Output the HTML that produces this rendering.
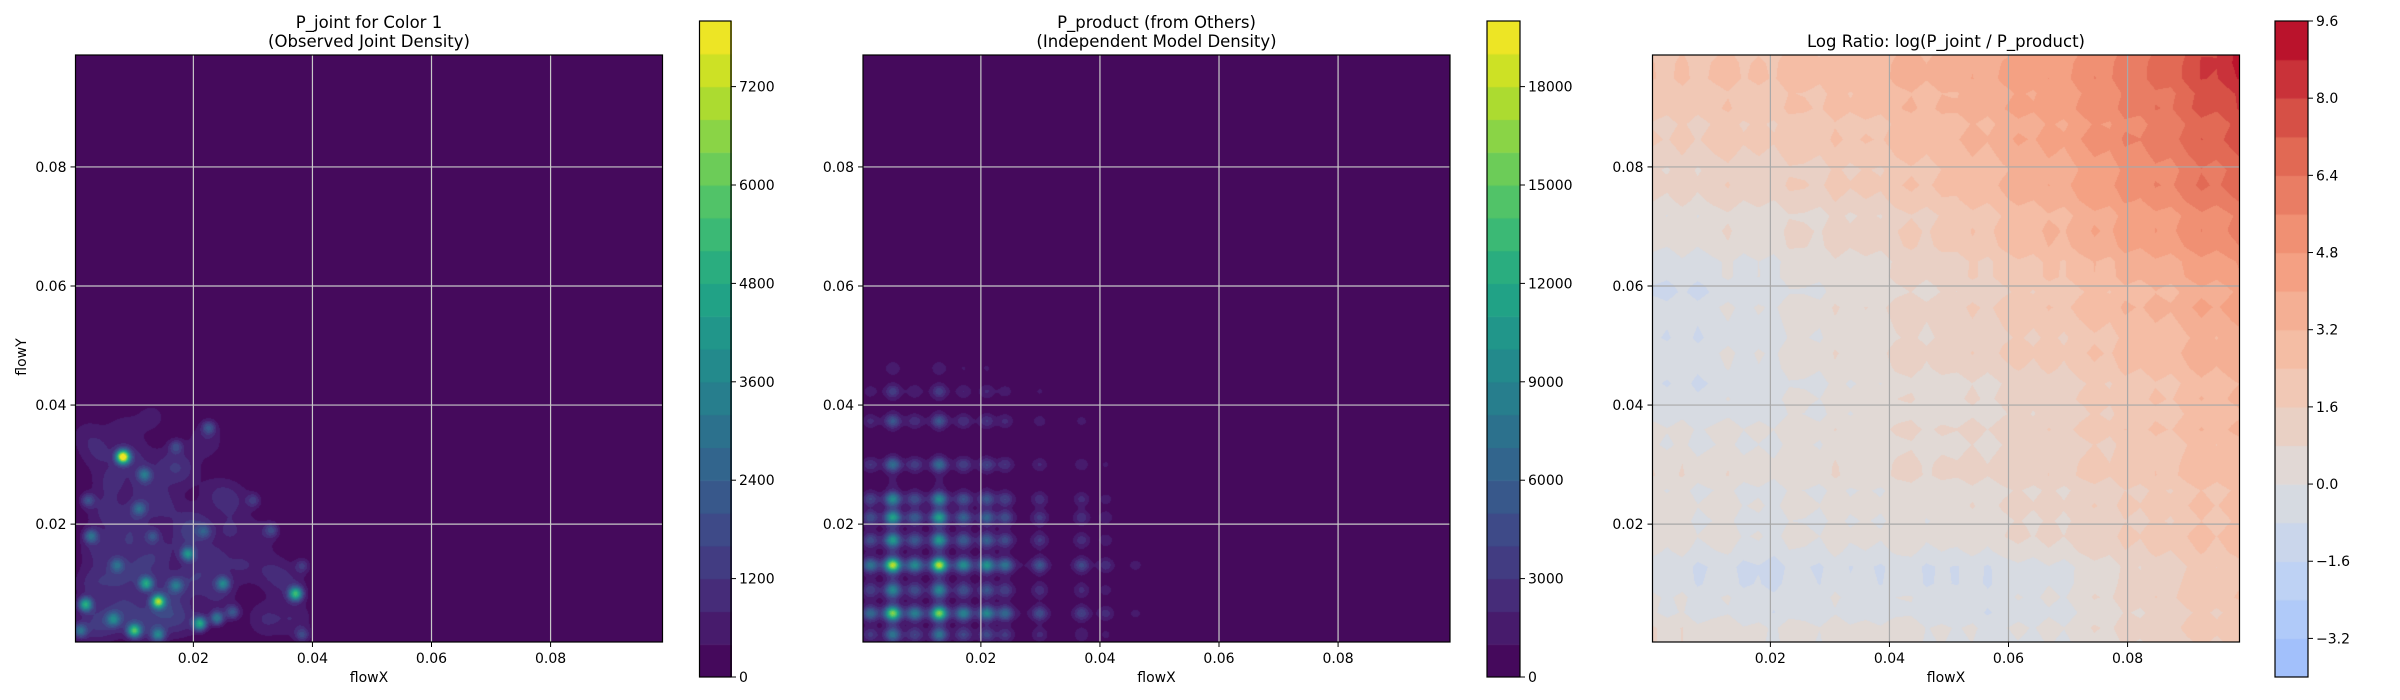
<!DOCTYPE html>
<html><head><meta charset="utf-8">
<style>
html,body{margin:0;padding:0;background:#fff;}
#wrap{position:relative;width:2400px;height:700px;overflow:hidden;font-family:"Liberation Sans","DejaVu Sans",sans-serif;}
canvas{position:absolute;}
svg{position:absolute;left:0;top:0;}
text{font-family:"DejaVu Sans","Liberation Sans",sans-serif;fill:#000;}
</style></head>
<body>
<div id="wrap">
<canvas id="h1"></canvas>
<canvas id="h2"></canvas>
<canvas id="h3"></canvas>
<canvas id="c1"></canvas>
<canvas id="c2"></canvas>
<canvas id="c3"></canvas>
<svg id="ov" width="2400" height="700"></svg>
</div>
<script>
// ---- data ----
const axisTicks = [0.02, 0.04, 0.06, 0.08];
const axisTickLabels = ["0.02", "0.04", "0.06", "0.08"];
const domainMin = 0.0002, domainMax = 0.0988;

// Panel 1: observed joint density peaks
const peakX = [0.0081,0.0140,0.0371,0.0018,0.0100,0.0120,0.0210,0.0190,0.0249,0.0239,0.0140,0.0027,0.0117,0.0108,0.0071,0.0225,0.0330,0.0382,0.0170,0.0022,0.0065,0.0009,0.0131,0.0217,0.0265,0.0300,0.0170,0.0382];
const peakY = [0.0313,0.0070,0.0083,0.0065,0.0021,0.0100,0.0033,0.0150,0.0100,0.0042,0.0014,0.0180,0.0283,0.0226,0.0131,0.0362,0.0190,0.0130,0.0097,0.0240,0.0040,0.0021,0.0180,0.0188,0.0052,0.0240,0.0330,0.0014];
const peakAmp = [8000,6000,5000,4500,5000,4000,4500,3500,3000,3000,3000,2500,2500,2000,2000,1800,1500,1200,2200,1800,2500,2500,1500,1500,2000,1200,1500,1500];
const clutterX = [0.003,0.006,0.009,0.012,0.015,0.018,0.003,0.007,0.011,0.016,0.020,0.024,0.004,0.009,0.014,0.019,0.023,0.028,0.033,0.036,0.005,0.010,0.015,0.020,0.026,0.031,0.006,0.012,0.018,0.024,0.004,0.010,0.016,0.022,0.027,0.032,0.037,0.002,0.008,0.013];
const clutterY = [0.003,0.004,0.006,0.003,0.005,0.004,0.010,0.011,0.012,0.009,0.011,0.008,0.016,0.017,0.015,0.018,0.014,0.013,0.012,0.010,0.022,0.021,0.023,0.020,0.019,0.018,0.027,0.026,0.029,0.025,0.032,0.031,0.030,0.034,0.024,0.004,0.004,0.035,0.036,0.038];
const clutterAmp = [900,900,900,900,900,900,900,900,900,900,900,800,900,900,900,800,800,700,700,700,800,800,800,800,700,600,800,800,700,700,700,800,700,700,600,800,700,500,500,500];

// Panel 2: independent model marginals
const margXPos = [0.0014,0.0052,0.0089,0.0130,0.0171,0.0210,0.0241,0.0299,0.0369,0.0410,0.0460];
const margXWt  = [0.40,1.00,0.45,1.00,0.50,0.55,0.40,0.30,0.25,0.15,0.08];
const margYPos = [0.0014,0.0050,0.0089,0.0131,0.0173,0.0211,0.0242,0.0300,0.0373,0.0423,0.0462];
const margYWt  = [0.40,0.90,0.45,1.00,0.55,0.60,0.50,0.40,0.30,0.20,0.10];
const productPeak = 19800;

// Panel 3: log ratio coarse grid (rows y=0.10 -> 0.00, cols x=0.00 -> 0.10)
const ratioRows = [
 [2.2,2.2,2.4,2.6,3.0,3.4,3.8,4.6,5.8,7.2,9.4],
 [1.8,2.0,2.2,2.4,2.8,3.2,3.8,4.6,5.6,6.8,8.0],
 [1.0,1.2,1.4,1.6,2.0,2.6,3.2,4.0,5.0,6.0,7.0],
 [0.2,0.4,0.6,0.8,1.2,1.8,2.6,3.4,4.2,5.0,5.8],
 [-0.9,-0.6,-0.2,0.2,0.6,1.0,1.6,2.4,3.0,3.6,4.4],
 [-0.6,-0.5,-0.1,0.3,0.7,1.1,1.5,1.9,2.5,3.1,3.8],
 [-0.5,-0.6,-0.2,0.0,0.4,0.4,0.7,1.3,1.9,2.5,3.2],
 [0.5,0.3,0.3,0.4,0.6,0.8,1.0,1.4,1.8,2.4,3.0],
 [0.3,0.0,-0.2,0.0,0.2,0.2,0.6,1.0,1.4,2.0,2.6],
 [-0.6,-0.8,-0.9,-0.7,-0.7,-0.9,-0.7,-0.1,0.8,1.6,2.2],
 [0.9,0.4,0.2,0.2,0.4,0.0,-0.3,0.2,0.8,1.4,2.0]
];
// streak texture (column / row offsets, 40 samples each across the axis)
const ratioColStreak = [0.18,-0.12,0.3,-0.24,0.12,0.36,-0.18,0.06,-0.3,0.24,0.12,-0.18,0.36,-0.12,0.06,-0.24,0.18,0.3,-0.18,0.12,-0.06,0.24,-0.24,0.12,0.3,-0.12,0.18,-0.3,0.06,0.24,-0.18,0.3,-0.12,0.18,-0.24,0.12,0.36,-0.18,0.06,0.18];
const ratioRowStreak = [-0.12,0.24,-0.18,0.3,0.06,-0.24,0.18,0.36,-0.12,0.12,-0.3,0.24,0.06,-0.18,0.3,-0.12,0.18,-0.24,0.12,0.24,-0.18,0.06,0.3,-0.24,0.12,-0.12,0.24,0.18,-0.3,0.12,0.3,-0.18,0.06,0.24,-0.24,0.12,-0.12,0.3,0.18,-0.18];

const cb1Ticks = [0,1200,2400,3600,4800,6000,7200];
const cb2Ticks = [0,3000,6000,9000,12000,15000,18000];
const cb3Ticks = [-3.2,-1.6,0.0,1.6,3.2,4.8,6.4,8.0,9.6];
const cb3Labels = ["\u22123.2","\u22121.6","0.0","1.6","3.2","4.8","6.4","8.0","9.6"];

// ---- layout ----
const panels = [
 {L:75.5, T:55, W:587, H:587, cbL:699.5, cbW:31.5},
 {L:863, T:55, W:587, H:587, cbL:1487, cbW:33},
 {L:1652.5, T:55, W:587, H:587, cbL:2275, cbW:33}
];
const cbT = 21, cbB = 677;

const viridis = [[68,1,84],[72,36,117],[65,68,135],[53,95,141],[42,120,142],[33,145,140],[34,168,132],[68,191,112],[122,209,81],[189,223,38],[253,231,37]];
const coolwarm = [[59,76,192],[98,130,234],[141,176,254],[184,208,249],[221,221,221],[245,196,173],[244,154,123],[222,96,77],[180,4,38]];
function cmap(stops, t){
  t=Math.max(0,Math.min(1,t));
  const n=stops.length-1, f=t*n, i=Math.min(n-1,Math.floor(f)), u=f-i;
  const a=stops[i], b=stops[i+1];
  return [a[0]+(b[0]-a[0])*u, a[1]+(b[1]-a[1])*u, a[2]+(b[2]-a[2])*u];
}
function xScale(p, v){ return p.L + (v-domainMin)/(domainMax-domainMin)*p.W; }
function yScale(p, v){ return p.T + p.H - (v-domainMin)/(domainMax-domainMin)*p.H; }

function setupCanvas(id, L, T, W, H){
  const c=document.getElementById(id);
  c.width=Math.round(W); c.height=Math.round(H);
  c.style.left=L+'px'; c.style.top=T+'px';
  return c;
}

function paintField(id, p, fn, colorOf){
  const c=setupCanvas(id,p.L,p.T,p.W,p.H);
  const ctx=c.getContext('2d');
  const img=ctx.createImageData(c.width,c.height);
  for(let py=0;py<c.height;py++){
    const yv=domainMax-(py+0.5)/c.height*(domainMax-domainMin);
    for(let px=0;px<c.width;px++){
      const xv=domainMin+(px+0.5)/c.width*(domainMax-domainMin);
      const col=colorOf(fn(xv,yv));
      const k=(py*c.width+px)*4;
      img.data[k]=col[0];img.data[k+1]=col[1];img.data[k+2]=col[2];img.data[k+3]=255;
    }
  }
  ctx.putImageData(img,0,0);
}

// Panel 1 field
function jointVal(x,y){
  let v=0;
  for(let i=0;i<peakX.length;i++){
    const dx=x-peakX[i], dy=y-peakY[i];
    if(Math.abs(dx)>0.01||Math.abs(dy)>0.01) continue;
    v+=peakAmp[i]*Math.exp(-(dx*dx+dy*dy)/(2*0.0008*0.0008));
  }
  for(let i=0;i<clutterX.length;i++){
    const dx=x-clutterX[i], dy=y-clutterY[i];
    if(Math.abs(dx)>0.012||Math.abs(dy)>0.012) continue;
    v+=clutterAmp[i]*Math.exp(-(dx*dx+dy*dy)/(2*0.0022*0.0022));
  }
  return v;
}
const lv1Step=400, lv1Max=8000;
paintField('h1',panels[0],jointVal,v=>{
  const b=Math.min(lv1Max/lv1Step-1,Math.max(0,Math.floor(v/lv1Step)));
  return cmap(viridis,(b+0.5)/(lv1Max/lv1Step));
});

// Panel 2 field
function marg(pos,wt,v,s){
  let r=0;
  for(let i=0;i<pos.length;i++){const d=v-pos[i]; r+=wt[i]*Math.exp(-d*d/(2*s*s));}
  return r;
}
function productVal(x,y){
  const fx=marg(margXPos,margXWt,x,0.0009)+0.12*marg(margXPos,margXWt,x,0.003);
  const fy=marg(margYPos,margYWt,y,0.0008)+0.12*marg(margYPos,margYWt,y,0.003);
  return productPeak*fx*fy/1.5;
}
const lv2Step=1000, lv2Max=20000;
paintField('h2',panels[1],productVal,v=>{
  const b=Math.min(lv2Max/lv2Step-1,Math.max(0,Math.floor(v/lv2Step)));
  return cmap(viridis,(b+0.5)/(lv2Max/lv2Step));
});

// Panel 3 field
function streak(arr,v){
  const n=arr.length, f=Math.max(0,Math.min(n-1.0001,v/0.1*(n-1)));
  const i=Math.floor(f), u=f-i;
  return arr[i]*(1-u)+arr[i+1]*u;
}
function ratioVal(x,y){
  const n=ratioRows.length-1;
  const fx=Math.max(0,Math.min(n-1e-9,x/0.1*n));
  const fy=Math.max(0,Math.min(n-1e-9,(0.1-y)/0.1*n));
  const i=Math.floor(fx), j=Math.floor(fy), u=fx-i, w=fy-j;
  const a=ratioRows[j][i], b=ratioRows[j][i+1], c=ratioRows[j+1][i], d=ratioRows[j+1][i+1];
  return a*(1-u)*(1-w)+b*u*(1-w)+c*(1-u)*w+d*u*w + streak(ratioColStreak,x) + streak(ratioRowStreak,y);
}
const lv3Min=-4.0, lv3Step=0.8, lv3Count=17;
function ratioColor(v){
  const b=Math.min(lv3Count-1,Math.max(0,Math.floor((v-lv3Min)/lv3Step)));
  const mid=lv3Min+(b+0.5)*lv3Step;
  return cmap(coolwarm,(mid+9.6)/19.2);
}
paintField('h3',panels[2],ratioVal,ratioColor);

// Colorbars
function paintBar(id,p,nb,colorOfBand){
  const c=setupCanvas(id,p.cbL,cbT,p.cbW,cbB-cbT);
  const ctx=c.getContext('2d');
  const h=c.height/nb;
  for(let b=0;b<nb;b++){
    const col=colorOfBand(b);
    ctx.fillStyle=`rgb(${col[0]|0},${col[1]|0},${col[2]|0})`;
    ctx.fillRect(0,c.height-(b+1)*h,c.width,h+0.6);
  }
}
paintBar('c1',panels[0],20,b=>cmap(viridis,(b+0.5)/20));
paintBar('c2',panels[1],20,b=>cmap(viridis,(b+0.5)/20));
paintBar('c3',panels[2],17,b=>cmap(coolwarm,(lv3Min+(b+0.5)*lv3Step+9.6)/19.2));

// ---- SVG overlay ----
const svg=document.getElementById('ov');
const NS='http://www.w3.org/2000/svg';
function mk(tag,attrs,txt){
  const e=document.createElementNS(NS,tag);
  for(const k in attrs) e.setAttribute(k,attrs[k]);
  if(txt!==undefined) e.textContent=txt;
  svg.appendChild(e); return e;
}
const titles=[["P_joint for Color 1","(Observed Joint Density)"],["P_product (from Others)","(Independent Model Density)"],["Log Ratio: log(P_joint / P_product)"]];
panels.forEach((p,pi)=>{
  const gridCol = pi===2 ? '#a8a8a8' : '#c8c8c8';
  axisTicks.forEach((t,ti)=>{
    const x=xScale(p,t), y=yScale(p,t);
    let g=mk('line',{x1:x,y1:p.T,x2:x,y2:p.T+p.H,stroke:gridCol,'stroke-width':1.2});
    
    
    g=mk('line',{x1:p.L,y1:y,x2:p.L+p.W,y2:y,stroke:gridCol,'stroke-width':1.2});
    
    
    mk('line',{x1:x,y1:p.T+p.H,x2:x,y2:p.T+p.H+5,stroke:'#000','stroke-width':1});
    let tx=mk('text',{x:x,y:p.T+p.H+21,'font-size':14,'text-anchor':'middle'},axisTickLabels[ti]);
    
    
    mk('line',{x1:p.L-5,y1:y,x2:p.L,y2:y,stroke:'#000','stroke-width':1});
    tx=mk('text',{x:p.L-9,y:y+5,'font-size':14,'text-anchor':'end'},axisTickLabels[ti]);
    
    
  });
  let fr=mk('rect',{x:p.L,y:p.T,width:p.W,height:p.H,fill:'none',stroke:'#000','stroke-width':1.2});
  
  
  let xl=mk('text',{x:p.L+p.W/2,y:682,'font-size':14,'text-anchor':'middle'},'flowX');
  
  
  const cx=p.L+p.W/2, tl=titles[pi];
  if(tl.length===2){
    let t1=mk('text',{x:cx,y:28,'font-size':16.5,'text-anchor':'middle'},tl[0]);
    
    
    let t2=mk('text',{x:cx,y:47,'font-size':16.5,'text-anchor':'middle'},tl[1]);
    
    
  } else {
    let t1=mk('text',{x:cx,y:47,'font-size':16.5,'text-anchor':'middle'},tl[0]);
    
    
  }
  let cf=mk('rect',{x:p.cbL,y:cbT,width:p.cbW,height:cbB-cbT,fill:'none',stroke:'#000','stroke-width':1.2});
  
  
});
let yl=mk('text',{x:26,y:357,'font-size':14,'text-anchor':'middle',transform:'rotate(-90 26 357)'},'flowY');



function cbTicks(p,ticks,labels,vmin,vmax){
  ticks.forEach((t,i)=>{
    const y=cbB-(t-vmin)/(vmax-vmin)*(cbB-cbT);
    const x=p.cbL+p.cbW;
    mk('line',{x1:x,y1:y,x2:x+5,y2:y,stroke:'#000','stroke-width':1});
    const e=mk('text',{x:x+8,y:y+5,'font-size':14},labels[i]);
    
    
  });
}
cbTicks(panels[0],cb1Ticks,cb1Ticks.map(String),0,8000);
cbTicks(panels[1],cb2Ticks,cb2Ticks.map(String),0,20000);
cbTicks(panels[2],cb3Ticks,cb3Labels,-4.0,9.6);
</script>
</body></html>
